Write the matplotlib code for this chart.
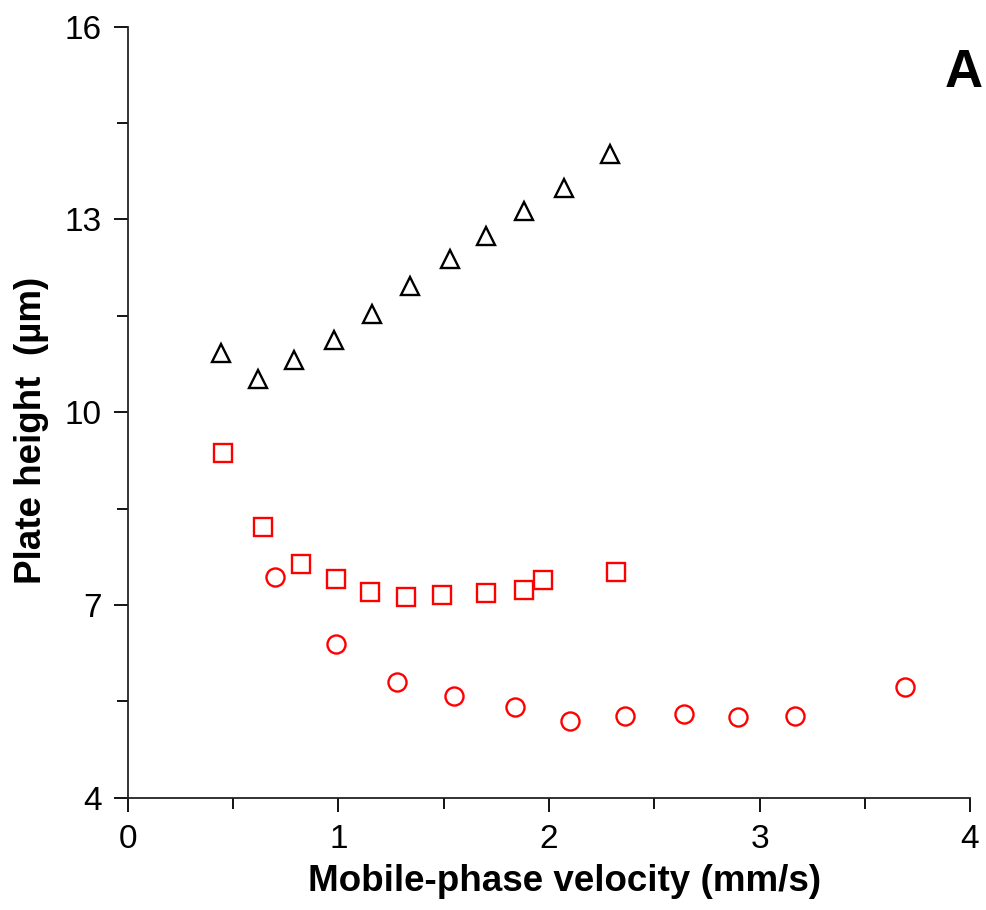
import matplotlib
matplotlib.use("Agg")
import matplotlib.pyplot as plt
from matplotlib.ticker import MultipleLocator, FixedLocator

plt.rcParams['font.family'] = ['Liberation Sans', 'DejaVu Sans']

# triangles (black)
tri_x = [0.44, 0.62, 0.79, 0.98, 1.16, 1.34, 1.53, 1.70, 1.88, 2.07, 2.29]
tri_y = [10.92, 10.52, 10.81, 11.13, 11.53, 11.96, 12.38, 12.74, 13.13, 13.49, 14.02]

# squares (red)
sq_x = [0.45, 0.64, 0.82, 0.99, 1.15, 1.32, 1.49, 1.70, 1.88, 1.97, 2.32]
sq_y = [9.37, 8.21, 7.64, 7.40, 7.20, 7.12, 7.16, 7.19, 7.23, 7.39, 7.51]

# circles (red)
circ_x = [0.70, 0.99, 1.28, 1.55, 1.84, 2.10, 2.36, 2.64, 2.90, 3.17, 3.69]
circ_y = [7.43, 6.39, 5.80, 5.58, 5.41, 5.20, 5.27, 5.30, 5.26, 5.27, 5.73]

y_major = [4, 7, 10, 13, 16]
y_minor = [5.5, 8.5, 11.5, 14.5]

fig = plt.figure(figsize=(9.86, 9.10), dpi=100)
ax = fig.add_axes([0.1298, 0.1234, 0.8540, 0.8473])

ax.plot(tri_x, tri_y, '^', ms=13.5, mfc='none', mec='black', mew=1.7, ls='none')
ax.plot(sq_x, sq_y, 's', ms=13, mfc='none', mec='red', mew=1.7, ls='none')
ax.plot(circ_x, circ_y, 'o', ms=13, mfc='none', mec='red', mew=1.7, ls='none')

ax.set_xlim(0, 4)
ax.set_ylim(4, 16)
ax.xaxis.set_major_locator(MultipleLocator(1))
ax.xaxis.set_minor_locator(MultipleLocator(0.5))
ax.yaxis.set_major_locator(FixedLocator(y_major))
ax.yaxis.set_minor_locator(FixedLocator(y_minor))

for s in ['top', 'right']:
    ax.spines[s].set_visible(False)
for s in ['left', 'bottom']:
    ax.spines[s].set_linewidth(1.3)
    ax.spines[s].set_color('#222222')

ax.tick_params(which='major', direction='out', length=10, width=1.3, labelsize=24, pad=9)
ax.tick_params(which='minor', direction='out', length=8, width=1.3)

ax.set_xlabel('Mobile-phase velocity (mm/s)', fontsize=26.5, fontweight='bold', va='center')
ax.set_ylabel('Plate height  (µm)', fontsize=26.5, fontweight='bold', va='center')
ax.xaxis.set_label_coords(0.519, -0.109)
ax.yaxis.set_label_coords(-0.114, 0.477)

ax.text(1.015, 0.94, 'A', transform=ax.transAxes, fontsize=38, fontweight='bold',
        ha='right', va='center')

fig.savefig('out.png', dpi=100)
